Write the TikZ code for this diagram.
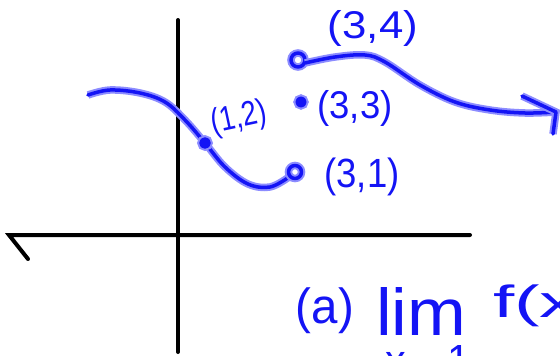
\documentclass[tikz,border=0pt]{standalone}
\usepackage{fontspec}
\setmainfont{Liberation Sans}
\usepackage{graphicx}
\definecolor{ink}{RGB}{20,20,245}
\definecolor{glow}{RGB}{140,140,255}
\newcommand\hand[3]{\resizebox*{#1pt}{#2pt}{#3}}
\tikzset{
  axis/.style={draw=black, line width=4pt, line cap=round},
  pen/.style={draw=ink, line width=3.5pt, line cap=round, line join=round,
    preaction={draw=glow, line width=7.5pt}},
  dot/.style={pen, fill=ink},
  lbl/.style={text=ink, inner sep=0pt}
}
\begin{document}
\begin{tikzpicture}[x=1pt,y=-1pt]
\useasboundingbox (0,0) rectangle (560,356);
\clip (0,0) rectangle (560,356);
\fill[white] (0,0) rectangle (560,356);
% axes
\coordinate (ytop) at (178,20);
\coordinate (ybot) at (178,352);
\coordinate (xl) at (9,235);
\coordinate (xr) at (470,235);
\coordinate (tk) at (28,259);
\draw[axis] (ytop) -- (ybot);
\draw[axis] (xr) -- (xl) -- (tk);
% left piece
\coordinate (o31) at (295,172);
\coordinate (d12) at (205,143);
\draw[pen] plot[smooth, tension=0.6] coordinates {(88,95) (110,90) (140,93) (165,102) (185,120) (205,143) (225,167) (248,184) (270,187) (289,177)};
\draw[pen] (o31) circle (6.5pt);
\draw[dot] (d12) circle (4pt);
% right piece
\coordinate (o34) at (298,60);
\coordinate (d33) at (301,102);
\coordinate (tip) at (556,112);
\coordinate (ha) at (522,96);
\coordinate (hb) at (553,134);
\draw[pen] (o34) circle (7pt);
\draw[dot] (d33) circle (3.8pt);
\draw[pen] plot[smooth, tension=0.6] coordinates {(305,63) (335,57) (365,55) (385,62) (420,85) (455,102) (490,110) (525,113) (556,112)};
\draw[pen] (ha) -- (tip) -- (hb);
% labels
\node[lbl] (l34) at (373,28) {\hand{90}{36}{(3,4)}};
\node[lbl] (l33) at (355,108) {\hand{75}{36}{(3,3)}};
\node[lbl] (l31) at (362,177) {\hand{75}{38}{(3,1)}};
\node[lbl, rotate=12] (l12) at (239,119) {\hand{56}{32}{(1,2)}};
\node[lbl] (la) at (325,311) {\hand{58}{46}{(a)}};
\node[lbl] (lim) at (421,311) {\hand{90}{48}{lim}};
\node[lbl, anchor=west] (fx) at (493,306) {\hand{85}{42}{f(x}};
\node[lbl, anchor=north] (x1) at (428,345) {\hand{85}{30}{x→1}};
\end{tikzpicture}
\end{document}
